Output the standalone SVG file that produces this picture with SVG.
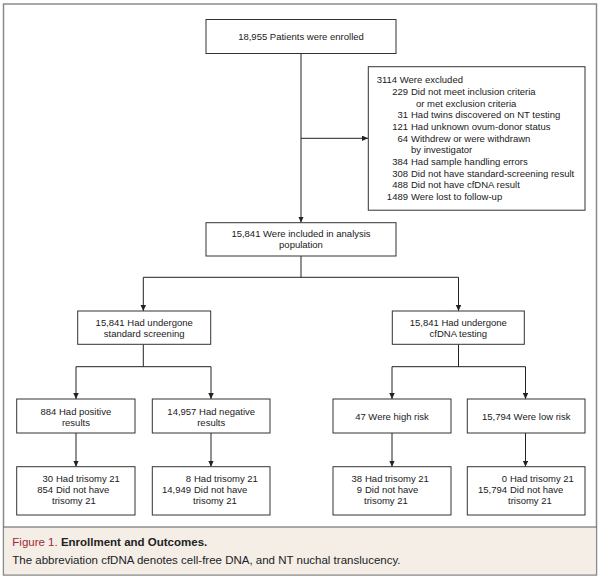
<svg xmlns="http://www.w3.org/2000/svg" width="600" height="578" viewBox="0 0 600 578">
<defs>
<marker id="ah" markerWidth="7" markerHeight="7" refX="6" refY="2.75" orient="auto" markerUnits="userSpaceOnUse">
<path d="M0,0 L6,2.75 L0,5.5 z" fill="#222"/>
</marker>
<style>
.box{fill:#fff;stroke:#333;stroke-width:1}
.t{font-family:"Liberation Sans",Arial,sans-serif;font-size:9.5px;fill:#1a1a1a}
.c{text-anchor:middle}
.e{text-anchor:end}
.ln{fill:none;stroke:#222;stroke-width:1}
.cap{font-family:"Liberation Sans",Arial,sans-serif;font-size:11.5px;fill:#222}
</style>
</defs>
<rect x="0" y="0" width="600" height="578" fill="#fff"/>
<rect x="3.5" y="4" width="593" height="571" fill="#fff" stroke="#8a8a8a" stroke-width="1.5"/>
<rect x="4.25" y="527" width="591.5" height="47.25" fill="#f4eee7"/>
<line x1="3.5" y1="527" x2="596.5" y2="527" stroke="#5a5a5a" stroke-width="1.2"/>

<g id="connectors">
<line class="ln" x1="301" y1="53.3" x2="301" y2="222.5" marker-end="url(#ah)"/>
<line class="ln" x1="301" y1="138.3" x2="368" y2="138.3" marker-end="url(#ah)"/>
<polyline class="ln" points="301,256 301,277.3"/>
<line class="ln" x1="143.3" y1="277.3" x2="458.5" y2="277.3"/>
<line class="ln" x1="143.3" y1="277.3" x2="143.3" y2="311" marker-end="url(#ah)"/>
<line class="ln" x1="458.5" y1="277.3" x2="458.5" y2="311" marker-end="url(#ah)"/>
<line class="ln" x1="143.3" y1="344.3" x2="143.3" y2="366.7"/>
<line class="ln" x1="76" y1="366.7" x2="211" y2="366.7"/>
<line class="ln" x1="76" y1="366.7" x2="76" y2="399" marker-end="url(#ah)"/>
<line class="ln" x1="211" y1="366.7" x2="211" y2="399" marker-end="url(#ah)"/>
<line class="ln" x1="458.5" y1="344.3" x2="458.5" y2="366.7"/>
<line class="ln" x1="392" y1="366.7" x2="525.5" y2="366.7"/>
<line class="ln" x1="392" y1="366.7" x2="392" y2="399" marker-end="url(#ah)"/>
<line class="ln" x1="525.5" y1="366.7" x2="525.5" y2="399" marker-end="url(#ah)"/>
<line class="ln" x1="76" y1="433" x2="76" y2="466.7" marker-end="url(#ah)"/>
<line class="ln" x1="211" y1="433" x2="211" y2="466.7" marker-end="url(#ah)"/>
<line class="ln" x1="392" y1="433" x2="392" y2="466.7" marker-end="url(#ah)"/>
<line class="ln" x1="525.5" y1="433" x2="525.5" y2="466.7" marker-end="url(#ah)"/>
</g>

<g id="enrolled">
<rect class="box" x="206" y="19.5" width="190" height="34"/>
<text class="t c" x="301" y="39.8">18,955 Patients were enrolled</text>
</g>

<g id="excluded">
<rect class="box" x="368.3" y="66.7" width="216.7" height="143.5"/>
<text class="t" x="376.7" y="83.3">3114 Were excluded</text>
<text class="t e" x="408" y="95">229</text><text class="t" x="411" y="95">Did not meet inclusion criteria</text>
<text class="t" x="416" y="106.6">or met exclusion criteria</text>
<text class="t e" x="408" y="118.3">31</text><text class="t" x="411" y="118.3">Had twins discovered on NT testing</text>
<text class="t e" x="408" y="130">121</text><text class="t" x="411" y="130">Had unknown ovum-donor status</text>
<text class="t e" x="408" y="141.6">64</text><text class="t" x="411" y="141.6">Withdrew or were withdrawn</text>
<text class="t" x="411" y="153.3">by investigator</text>
<text class="t e" x="408" y="165">384</text><text class="t" x="411" y="165">Had sample handling errors</text>
<text class="t e" x="408" y="176.6">308</text><text class="t" x="411" y="176.6">Did not have standard-screening result</text>
<text class="t e" x="408" y="188.3">488</text><text class="t" x="411" y="188.3">Did not have cfDNA result</text>
<text class="t e" x="408" y="200">1489</text><text class="t" x="411" y="200">Were lost to follow-up</text>
</g>

<g id="analysis">
<rect class="box" x="206" y="222.7" width="190" height="33.3"/>
<text class="t c" x="301" y="237">15,841 Were included in analysis</text>
<text class="t c" x="301" y="247.6">population</text>
</g>

<g id="standard">
<rect class="box" x="77.7" y="311" width="133" height="33.3"/>
<text class="t c" x="144.2" y="326">15,841 Had undergone</text>
<text class="t c" x="144.2" y="336.6">standard screening</text>
</g>

<g id="cfdna">
<rect class="box" x="392.3" y="311" width="132" height="33.3"/>
<text class="t c" x="458.3" y="326">15,841 Had undergone</text>
<text class="t c" x="458.3" y="336.6">cfDNA testing</text>
</g>

<g id="positive">
<rect class="box" x="16.7" y="399" width="118.3" height="34"/>
<text class="t c" x="75.9" y="415">884 Had positive</text>
<text class="t c" x="75.9" y="425.6">results</text>
</g>

<g id="negative">
<rect class="box" x="152.3" y="399" width="117.7" height="34"/>
<text class="t c" x="211.2" y="415">14,957 Had negative</text>
<text class="t c" x="211.2" y="425.6">results</text>
</g>

<g id="highrisk">
<rect class="box" x="333" y="399" width="118" height="34"/>
<text class="t c" x="392" y="420">47 Were high risk</text>
</g>

<g id="lowrisk">
<rect class="box" x="467.3" y="399" width="117.7" height="34"/>
<text class="t c" x="526.2" y="420">15,794 Were low risk</text>
</g>

<g id="pos-outcome">
<rect class="box" x="16.7" y="466.7" width="118.3" height="48.3"/>
<text class="t e" x="53" y="482.3">30</text><text class="t" x="56" y="482.3">Had trisomy 21</text>
<text class="t e" x="53" y="493.3">854</text><text class="t" x="56" y="493.3">Did not have</text>
<text class="t" x="52" y="504.3">trisomy 21</text>
</g>

<g id="neg-outcome">
<rect class="box" x="152.3" y="466.7" width="117.7" height="48.3"/>
<text class="t e" x="191" y="482.3">8</text><text class="t" x="194" y="482.3">Had trisomy 21</text>
<text class="t e" x="191" y="493.3">14,949</text><text class="t" x="194" y="493.3">Did not have</text>
<text class="t" x="193" y="504.3">trisomy 21</text>
</g>

<g id="high-outcome">
<rect class="box" x="333" y="466.7" width="118" height="48.3"/>
<text class="t e" x="362" y="482.3">38</text><text class="t" x="365" y="482.3">Had trisomy 21</text>
<text class="t e" x="362" y="493.3">9</text><text class="t" x="365" y="493.3">Did not have</text>
<text class="t" x="364" y="504.3">trisomy 21</text>
</g>

<g id="low-outcome">
<rect class="box" x="467.3" y="466.7" width="117.7" height="48.3"/>
<text class="t e" x="507" y="482.3">0</text><text class="t" x="510" y="482.3">Had trisomy 21</text>
<text class="t e" x="507" y="493.3">15,794</text><text class="t" x="510" y="493.3">Did not have</text>
<text class="t" x="508" y="504.3">trisomy 21</text>
</g>

<g id="caption">
<text class="cap" x="12.3" y="546"><tspan fill="#9c2a36">Figure 1.</tspan> <tspan font-weight="bold">Enrollment and Outcomes.</tspan></text>
<text class="cap" x="12.3" y="563.5">The abbreviation cfDNA denotes cell-free DNA, and NT nuchal translucency.</text>
</g>
</svg>
